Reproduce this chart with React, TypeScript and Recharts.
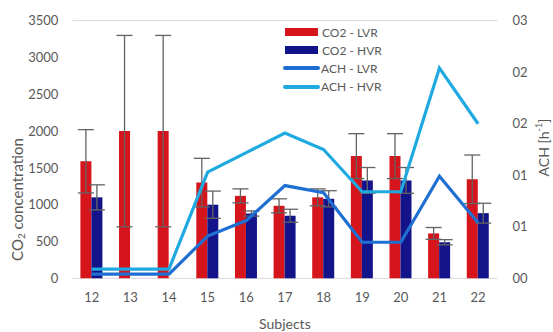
import React from 'react';
import {
  ComposedChart,
  Bar,
  Line,
  XAxis,
  YAxis,
  CartesianGrid,
  Legend,
  ErrorBar,
} from 'recharts';

// Subjects on the category axis
const subjects = ['12', '13', '14', '15', '16', '17', '18', '19', '20', '21', '22'];

// CO2 concentration (ppm) with standard deviation, low / high ventilation rate
const co2Lvr = [1590, 2000, 2000, 1300, 1120, 985, 1100, 1660, 1660, 610, 1345];
const co2LvrErr = [430, 1300, 1300, 330, 95, 95, 115, 305, 305, 80, 330];
const co2Hvr = [1100, null, null, 1000, 880, 850, 1080, 1330, 1330, 490, 885];
const co2HvrErr = [170, null, null, 185, 35, 88, 110, 175, 175, 35, 135];

// Air changes per hour
const achLvr = [0.004, 0.004, 0.004, 0.041, 0.056, 0.09, 0.083, 0.035, 0.035, 0.099, 0.054];
const achHvr = [0.009, 0.009, 0.009, 0.103, 0.122, 0.141, 0.125, 0.084, 0.084, 0.204, 0.15];

// Axis ticks
const co2Ticks = [0, 500, 1000, 1500, 2000, 2500, 3000, 3500];
const achTicks = [0, 0.05, 0.1, 0.15, 0.2, 0.25];
const achTickLabels = ['00', '01', '01', '02', '02', '03'];

const seriesOrder = ['CO2 - LVR', 'CO2 - HVR', 'ACH - LVR', 'ACH - HVR'];

const data = subjects.map((subject, i) => ({
  subject,
  co2Lvr: co2Lvr[i],
  co2LvrErr: co2LvrErr[i],
  co2Hvr: co2Hvr[i],
  co2HvrErr: co2HvrErr[i],
  achLvr: achLvr[i],
  achHvr: achHvr[i],
}));

const FONT = 'Lato, "Open Sans", sans-serif';
const TEXT = '#595959';
const RED = '#D5151B';
const NAVY = '#14148A';
const BLUE = '#1F6FD2';
const CYAN = '#1FA9E1';

const LegendContent = (props: any) => {
  const items = [...(props.payload || [])].sort(
    (a: any, b: any) => seriesOrder.indexOf(a.value) - seriesOrder.indexOf(b.value)
  );
  return (
    <div style={{ fontFamily: FONT, fontSize: 12, color: TEXT }}>
      {items.map((p: any) => (
        <div key={p.value} style={{ height: 18.2, display: 'flex', alignItems: 'center' }}>
          {p.type === 'rect' ? (
            <span
              style={{ display: 'inline-block', width: 33, height: 8, background: p.color, marginLeft: 2, marginRight: 4 }}
            />
          ) : (
            <span
              style={{ display: 'inline-block', width: 37, height: 4, borderRadius: 2, background: p.color, marginRight: 1 }}
            />
          )}
          <span>{p.value}</span>
        </div>
      ))}
    </div>
  );
};

const Co2Title = (props: any) => {
  const { x, y, height } = props.viewBox;
  const cx = x + 17;
  const cy = y + height / 2 + 50;
  return (
    <text
      x={cx}
      y={cy}
      transform={`rotate(-90 ${cx} ${cy})`}
      textAnchor="middle"
      dominantBaseline="central"
      fill={TEXT}
      fontFamily={FONT}
      fontSize={15}
    >
      CO<tspan dy={4} fontSize={10}>2</tspan>
      <tspan dy={-4}> concentration</tspan>
    </text>
  );
};

const AchTitle = (props: any) => {
  const { x, y, height } = props.viewBox;
  const cx = x + 46;
  const cy = y + height / 2 - 2;
  return (
    <text
      x={cx}
      y={cy}
      transform={`rotate(-90 ${cx} ${cy})`}
      textAnchor="middle"
      dominantBaseline="central"
      fill={TEXT}
      fontFamily={FONT}
      fontSize={14}
    >
      ACH [h<tspan dy={-5} fontSize={9}>-1</tspan>
      <tspan dy={5}>]</tspan>
    </text>
  );
};

export default function App() {
  const tick = { fill: TEXT, fontFamily: FONT, fontSize: 13 };
  return (
    <div style={{ position: 'absolute', left: 0, top: 0, background: '#fff' }}>
      <ComposedChart
        width={553}
        height={332}
        data={data}
        margin={{ top: 20.7, right: 0, bottom: 0, left: 0 }}
        barSize={11}
        barGap={0}
      >
        <CartesianGrid vertical={false} stroke="#d9d9d9" strokeWidth={1} />
        <XAxis
          dataKey="subject"
          height={53.7}
          axisLine={false}
          tickLine={false}
          tickSize={0}
          tickMargin={14}
          tick={tick}
          label={{ value: 'Subjects', position: 'insideBottom', offset: 3, fill: TEXT, fontFamily: FONT, fontSize: 14 }}
        />
        <YAxis
          yAxisId="co2"
          width={72.4}
          domain={[0, 3500]}
          ticks={co2Ticks}
          axisLine={false}
          tickLine={false}
          tickSize={0}
          tickMargin={14}
          tick={tick}
          label={<Co2Title />}
        />
        <YAxis
          yAxisId="ach"
          orientation="right"
          width={55.6}
          domain={[0, 0.25]}
          ticks={achTicks}
          tickFormatter={(v: number) => achTickLabels[achTicks.indexOf(v)] ?? ''}
          axisLine={false}
          tickLine={false}
          tickSize={0}
          tickMargin={15}
          tick={{ ...tick, textAnchor: 'start' }}
          label={<AchTitle />}
        />
        <Bar yAxisId="co2" dataKey="co2Lvr" name="CO2 - LVR" fill={RED} isAnimationActive={false}>
          <ErrorBar dataKey="co2LvrErr" width={8} stroke="#636363" strokeWidth={1.3} direction="y" />
        </Bar>
        <Bar yAxisId="co2" dataKey="co2Hvr" name="CO2 - HVR" fill={NAVY} isAnimationActive={false}>
          <ErrorBar dataKey="co2HvrErr" width={8} stroke="#636363" strokeWidth={1.3} direction="y" />
        </Bar>
        <Line
          yAxisId="ach"
          type="linear"
          dataKey="achLvr"
          name="ACH - LVR"
          stroke={BLUE}
          strokeWidth={3.2}
          dot={false}
          isAnimationActive={false}
        />
        <Line
          yAxisId="ach"
          type="linear"
          dataKey="achHvr"
          name="ACH - HVR"
          stroke={CYAN}
          strokeWidth={3.2}
          dot={false}
          isAnimationActive={false}
        />
        <Legend
          layout="vertical"
          align="center"
          verticalAlign="middle"
          content={<LegendContent />}
          wrapperStyle={{ position: 'absolute', left: 283, top: 23, width: 140, height: 'auto' }}
        />
      </ComposedChart>
    </div>
  );
}
